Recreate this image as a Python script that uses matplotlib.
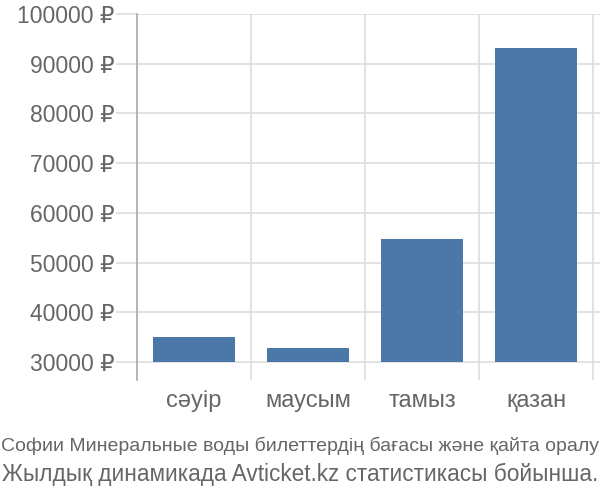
import matplotlib.pyplot as plt
from matplotlib.ticker import FuncFormatter, FixedLocator

months = ["сәуір", "маусым", "тамыз", "қазан"]
prices = [35100, 32900, 54700, 93200]
base = 30000
yticks = [30000, 40000, 50000, 60000, 70000, 80000, 90000, 100000]

plt.rcParams['font.family'] = ['Liberation Sans', 'DejaVu Sans']

fig = plt.figure(figsize=(6, 5), dpi=100)
ax = fig.add_axes([137/600, 1 - 380/500, 1 - 137/600, (380 - 14)/500])

x = range(len(months))
ax.bar(x, [p - base for p in prices], bottom=base, width=0.72, color='#4c78a8', zorder=3)

ax.set_ylim(26380, 100000)
ax.set_xlim(-0.5, 3.5 + 7/114)
ax.set_yticks(yticks)
ax.yaxis.set_major_formatter(FuncFormatter(lambda v, p: f"{int(v)} ₽"))
ax.set_xticks(list(x))
ax.set_xticklabels(months)
ax.xaxis.set_minor_locator(FixedLocator([-0.5, 0.5, 1.5, 2.5, 3.5]))

ax.grid(axis='y', color='#dddddd', linewidth=1.2, zorder=0)
ax.grid(axis='x', which='minor', color='#dddddd', linewidth=1.2, zorder=0)
ax.tick_params(axis='y', length=15, color='#dddddd', width=1.2, pad=1, labelsize=16.5, labelcolor='#666666')
ax.tick_params(axis='x', which='major', length=0, pad=7, labelsize=17, labelcolor='#666666')
ax.tick_params(axis='x', which='minor', length=0)

for s in ['top', 'right', 'bottom']:
    ax.spines[s].set_visible(False)
ax.spines['left'].set_color('#aaaaaa')
ax.spines['left'].set_linewidth(1.2)

fig.text(0.5, 1 - 446/500, "Софии Минеральные воды билеттердің бағасы және қайта оралу",
         ha='center', va='center', fontsize=14, color='#666666',
         family=['Liberation Sans Narrow', 'Liberation Sans', 'DejaVu Sans'])
fig.text(0.5, 1 - 474/500, "Жылдық динамикада Avticket.kz статистикасы бойынша.",
         ha='center', va='center', fontsize=16.3, color='#666666')

fig.savefig("out.png", dpi=100)
